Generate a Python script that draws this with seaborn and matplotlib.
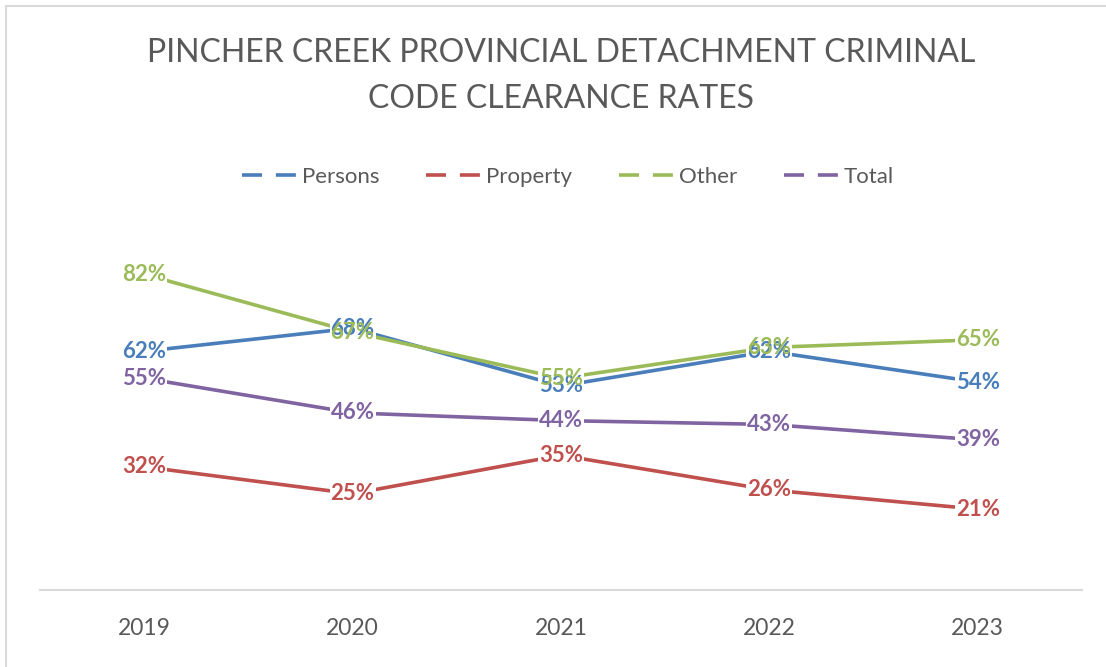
import pandas as pd
import matplotlib.pyplot as plt
import seaborn as sns
from matplotlib.lines import Line2D
from matplotlib.patches import Rectangle

sns.set_theme(style="white")
plt.rcParams['font.family'] = ['Lato', 'DejaVu Sans']
plt.rcParams['lines.scale_dashes'] = False

years = ['2019', '2020', '2021', '2022', '2023']
persons = [62, 68, 53, 62, 54]
property_ = [32, 25, 35, 26, 21]
other = [82, 67, 55, 63, 65]
total = [55, 46, 44, 43, 39]

series = ['Persons', 'Property', 'Other', 'Total']
colors = ['#4A7EBB', '#C0504D', '#9BBB59', '#8064A2']

df = pd.DataFrame({'year': years, 'Persons': persons, 'Property': property_,
                   'Other': other, 'Total': total})
long = df.melt(id_vars='year', var_name='category', value_name='rate')

fig = plt.figure(figsize=(11.06, 6.67), dpi=100)
ax = fig.add_axes([40 / 1106, 77 / 667, 1042 / 1106, 385 / 667])

sns.lineplot(data=long, x='year', y='rate', hue='category', hue_order=series,
             palette=colors, linewidth=2.6, legend=False, ax=ax, sort=False)

labels = []
for name, col in zip(series, colors):
    for x, v in zip(range(len(years)), df[name]):
        t = ax.text(x, v, f'{v}%', ha='center', va='center', fontsize=16,
                    fontweight='bold', color=col, zorder=5)
        labels.append(t)

ax.set_xlim(-0.5, len(years) - 0.5)
ax.set_ylim(0, 100)
ax.set_yticks([])
ax.set_xlabel('')
ax.set_ylabel('')
for s in ['top', 'right', 'left']:
    ax.spines[s].set_visible(False)
ax.spines['bottom'].set_color('#D9D9D9')
ax.spines['bottom'].set_linewidth(1.5)
ax.tick_params(axis='x', length=0, pad=20, labelsize=16.5, labelcolor='#595959')

# white boxes behind the labels cut the lines, labels stay on top of all boxes
fig.canvas.draw()
for t in labels:
    bb = t.get_window_extent()
    ax.add_patch(Rectangle((bb.x0 - 1, bb.y0 + 1), bb.width + 2, bb.height - 2,
                           transform=None, fc='white', ec='none', zorder=4))

fig.text(0.507, 1 - 76 / 667, 'PINCHER CREEK PROVINCIAL DETACHMENT CRIMINAL\nCODE CLEARANCE RATES',
         ha='center', va='center', fontsize=23, color='#595959', linespacing=1.7)

handles = [Line2D([0], [0], color=c, linewidth=2.6, dashes=(14.4, 10)) for c in colors]
fig.legend(handles, series, loc='center', bbox_to_anchor=(568 / 1106, 1 - 177 / 667), ncol=4,
           frameon=False, fontsize=16, labelcolor='#595959', handlelength=2.5,
           handletextpad=0.2, columnspacing=2.1)

fig.patches.append(Rectangle((6 / 1106, -0.1), 1.2, 1 - 6 / 667 + 0.1, transform=fig.transFigure,
                             fill=False, ec='#D9D9D9', lw=1.5))

fig.savefig('out.png', dpi=100)
